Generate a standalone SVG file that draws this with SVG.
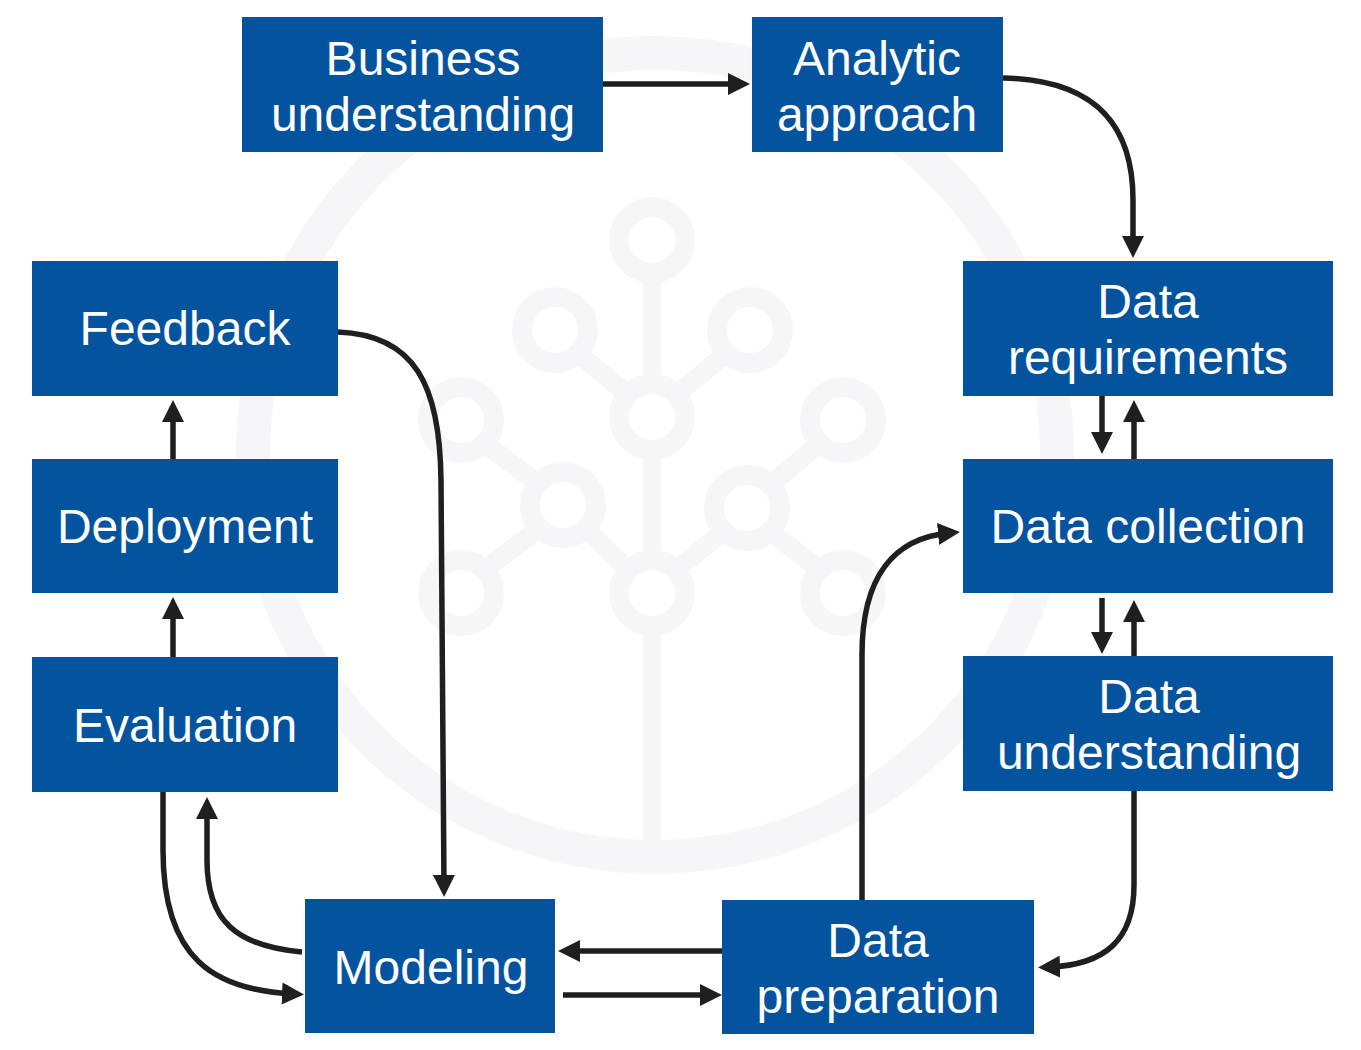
<svg xmlns="http://www.w3.org/2000/svg" width="1361" height="1050" viewBox="0 0 1361 1050">
  <style>
    .box { fill: #04539f; }
    .lbl { fill: #ffffff; font-family: "Liberation Sans", Arial, sans-serif; font-size: 48px; text-anchor: middle; }
    .edge { fill: none; stroke: #1f1f1f; stroke-width: 5.5; marker-end: url(#arrow); }
    .wm { fill: none; stroke: #f6f6f8; }
  </style>
  <defs>
    <marker id="arrow" viewBox="0 0 10 10" markerWidth="22" markerHeight="22" refX="5" refY="5" orient="auto" markerUnits="userSpaceOnUse">
      <path d="M0,0 L10,5 L0,10 z" fill="#1f1f1f"/>
    </marker>
  </defs>
  <rect width="1361" height="1050" fill="#ffffff"/>

  <g id="watermark" class="wm">
    <circle cx="655" cy="455" r="402" stroke-width="34"/>
    <g stroke-width="19">
      <line x1="652" y1="272" x2="652" y2="385"/>
      <line x1="652" y1="450" x2="652" y2="560"/>
      <line x1="652" y1="626" x2="652" y2="860"/>
      <line x1="578" y1="353" x2="628" y2="395"/>
      <line x1="727" y1="353" x2="676" y2="395"/>
      <line x1="586" y1="528" x2="628" y2="570"/>
      <line x1="724" y1="531" x2="676" y2="570"/>
      <line x1="820" y1="443" x2="770" y2="485"/>
      <line x1="484" y1="443" x2="540" y2="485"/>
      <line x1="770" y1="531" x2="820" y2="570"/>
      <line x1="540" y1="528" x2="484" y2="570"/>
    </g>
    <g stroke-width="20">
      <circle cx="652" cy="240" r="33"/>
      <circle cx="555" cy="330" r="33"/>
      <circle cx="750" cy="330" r="33"/>
      <circle cx="652" cy="417" r="33"/>
      <circle cx="843" cy="420" r="33"/>
      <circle cx="461" cy="420" r="33"/>
      <circle cx="563" cy="505" r="33"/>
      <circle cx="747" cy="508" r="33"/>
      <circle cx="652" cy="593" r="33"/>
      <circle cx="843" cy="593" r="33"/>
      <circle cx="461" cy="593" r="33"/>
    </g>
  </g>

  <g id="connectors">
    <path class="edge" d="M603,84 L739,84"/>
    <path class="edge" d="M1003,78 C1105,80 1133,135 1133,200 L1133,247"/>
    <path class="edge" d="M1102,396 L1102,443"/>
    <path class="edge" d="M1134,459 L1134,411"/>
    <path class="edge" d="M1102,598 L1102,643"/>
    <path class="edge" d="M1134,656 L1134,611"/>
    <path class="edge" d="M1134,786 L1134,885 C1134,940 1105,965 1049,967"/>
    <path class="edge" d="M862,900 L862,655 C862,575 895,538 949,533"/>
    <path class="edge" d="M722,951 L569,951"/>
    <path class="edge" d="M563,995 L711,995"/>
    <path class="edge" d="M302,952 C235,946 207,920 207,860 L207,808"/>
    <path class="edge" d="M163,792 L163,850 C163,960 215,990 293,994"/>
    <path class="edge" d="M173,657 L173,608"/>
    <path class="edge" d="M173,459 L173,411"/>
    <path class="edge" d="M338,332 C415,335 440,385 441,480 L444,886"/>
  </g>

  <g id="business-understanding">
    <rect class="box" x="242" y="17" width="361" height="135"/>
    <text class="lbl" x="423" y="75">Business</text>
    <text class="lbl" x="423" y="131">understanding</text>
  </g>
  <g id="analytic-approach">
    <rect class="box" x="752" y="17" width="251" height="135"/>
    <text class="lbl" x="877" y="75">Analytic</text>
    <text class="lbl" x="877" y="131">approach</text>
  </g>
  <g id="data-requirements">
    <rect class="box" x="963" y="261" width="370" height="135"/>
    <text class="lbl" x="1148" y="318">Data</text>
    <text class="lbl" x="1148" y="374">requirements</text>
  </g>
  <g id="data-collection">
    <rect class="box" x="963" y="459" width="370" height="134"/>
    <text class="lbl" x="1148" y="543">Data collection</text>
  </g>
  <g id="data-understanding">
    <rect class="box" x="963" y="656" width="370" height="135"/>
    <text class="lbl" x="1149" y="713">Data</text>
    <text class="lbl" x="1149" y="769">understanding</text>
  </g>
  <g id="data-preparation">
    <rect class="box" x="722" y="900" width="312" height="134"/>
    <text class="lbl" x="878" y="957">Data</text>
    <text class="lbl" x="878" y="1013">preparation</text>
  </g>
  <g id="modeling">
    <rect class="box" x="305" y="899" width="250" height="134"/>
    <text class="lbl" x="431" y="984">Modeling</text>
  </g>
  <g id="evaluation">
    <rect class="box" x="32" y="657" width="306" height="135"/>
    <text class="lbl" x="185" y="742">Evaluation</text>
  </g>
  <g id="deployment">
    <rect class="box" x="32" y="459" width="306" height="134"/>
    <text class="lbl" x="185" y="543">Deployment</text>
  </g>
  <g id="feedback">
    <rect class="box" x="32" y="261" width="306" height="135"/>
    <text class="lbl" x="185" y="345">Feedback</text>
  </g>
</svg>
